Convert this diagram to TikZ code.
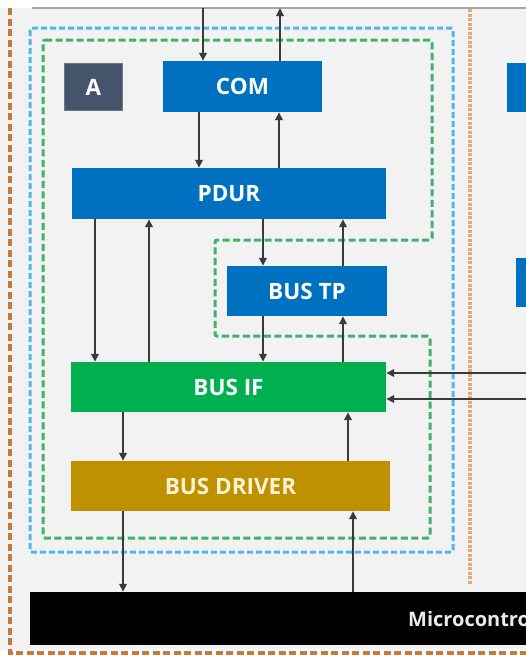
\documentclass[tikz,border=0pt]{standalone}
\usepackage{fontspec}
\setmainfont{Open Sans}
\usetikzlibrary{arrows.meta}
\definecolor{bg}{HTML}{F2F2F2}
\definecolor{comblue}{HTML}{0070C0}
\definecolor{ifgreen}{HTML}{00B050}
\definecolor{drvgold}{HTML}{BF9000}
\definecolor{slate}{HTML}{44546A}
\definecolor{linegray}{HTML}{3A3A3A}
\definecolor{dashblue}{HTML}{4FB8E8}
\definecolor{dashgreen}{HTML}{3DB36E}
\definecolor{ecuorange}{HTML}{C47A3C}
\definecolor{dotorange}{HTML}{E2AA7C}
\definecolor{cream}{HTML}{FBF3D6}
\tikzset{
  module/.style={rectangle, inner sep=0pt, text=white, font=\fontsize{22.5}{24}\selectfont\bfseries},
  arr/.style={draw=linegray, line width=1.7pt, -{Triangle[length=8pt,width=7.5pt]}},
  bluedash/.style={draw=dashblue, line width=3pt, dash pattern=on 6pt off 3pt},
  greendash/.style={draw=dashgreen, line width=3pt, dash pattern=on 7pt off 3.5pt},
  orangedash/.style={draw=ecuorange, line width=4.2pt, dash pattern=on 7pt off 3.5pt},
  orangedot/.style={draw=dotorange, line width=4pt, dash pattern=on 3pt off 1.5pt},
}
\begin{document}
\begin{tikzpicture}[x=1pt, y=-1pt]
\useasboundingbox (0,0) rectangle (526,656);
\clip (0,0) rectangle (526,656);
% background
\fill[white] (0,0) rectangle (526,656);
\fill[bg] (0,8) rectangle (526,650);
\draw[gray!70, line width=1.2pt] (32,8) -- (526,8);

% ECU boundary and partition line
\draw[orangedash] (10,8) -- (10,653) -- (526,653);
\draw[orangedot] (470,9) -- (470,585);

% stack outlines
\draw[bluedash, rounded corners=2pt] (30,28) rectangle (453,552);
\draw[greendash, rounded corners=2pt] (43,40) -- (432,40) -- (432,240) -- (215,240) -- (215,336) -- (430,336) -- (430,538) -- (43,538) -- cycle;

% modules
\node[module, fill=slate, draw=slate!80!white, line width=1pt, minimum width=58pt, minimum height=47pt] (a) at (93.5,87) {A};
\node[module, fill=comblue, minimum width=159pt, minimum height=51pt] (com) at (242.5,86.5) {COM};
\node[module, fill=comblue, minimum width=314pt, minimum height=51pt] (pdur) at (229,193.5) {PDUR};
\node[module, fill=comblue, minimum width=160pt, minimum height=50pt] (bustp) at (307,291) {BUS TP};
\node[module, fill=ifgreen, minimum width=315pt, minimum height=50pt] (busif) at (228.5,387) {BUS IF};
\node[module, fill=drvgold, minimum width=319pt, minimum height=50pt, text=cream] (drv) at (230.5,486) {BUS DRIVER};
\node[module, font=\fontsize{20}{22}\selectfont\bfseries, fill=black, anchor=west, minimum width=600pt, minimum height=53pt, text width=560pt, align=left, text=white!92!black] (mc) at (30,618.5) {\hspace*{358pt}Microcontroller};

% neighbouring stack, partly visible
\node[rectangle, fill=comblue, anchor=north west, minimum width=60pt, minimum height=49pt, inner sep=0pt] (nbcom) at (507,63) {};
\node[rectangle, fill=comblue, anchor=north west, minimum width=60pt, minimum height=49pt, inner sep=0pt] (nbtp) at (516,258) {};

% column positions of the connectors
\coordinate (tin) at (203,8);
\coordinate (tout) at (280,8);
\coordinate (c199) at (199,0);
\coordinate (c279) at (279,0);
\coordinate (c95) at (95,0);
\coordinate (c149) at (149,0);
\coordinate (c263) at (263,0);
\coordinate (c343) at (343,0);
\coordinate (c123) at (123,0);
\coordinate (c348) at (348,0);
\coordinate (c353) at (353,0);
\coordinate (rin1) at (526,373);
\coordinate (rin2) at (526,399);

% connectors
\draw[arr] (tin) -- (com.north -| tin);
\draw[arr] (com.north -| tout) -- (tout);
\draw[arr] (com.south -| c199) -- (pdur.north -| c199);
\draw[arr] (pdur.north -| c279) -- (com.south -| c279);
\draw[arr] (pdur.south -| c95) -- (busif.north -| c95);
\draw[arr] (busif.north -| c149) -- (pdur.south -| c149);
\draw[arr] (pdur.south -| c263) -- (bustp.north -| c263);
\draw[arr] (bustp.north -| c343) -- (pdur.south -| c343);
\draw[arr] (bustp.south -| c263) -- (busif.north -| c263);
\draw[arr] (busif.north -| c343) -- (bustp.south -| c343);
\draw[arr] (rin1) -- (busif.east |- rin1);
\draw[arr] (rin2) -- (busif.east |- rin2);
\draw[arr] (busif.south -| c123) -- (drv.north -| c123);
\draw[arr] (drv.north -| c348) -- (busif.south -| c348);
\draw[arr] (drv.south -| c123) -- (mc.north -| c123);
\draw[arr] (mc.north -| c353) -- (drv.south -| c353);
\end{tikzpicture}
\end{document}
